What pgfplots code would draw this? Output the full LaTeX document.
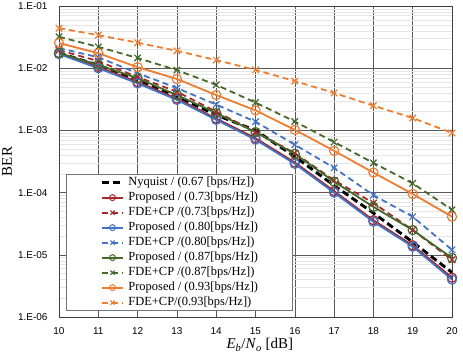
\documentclass[border=0pt]{standalone}
\usepackage{pgfplots}
\pgfplotsset{compat=1.18}
\usepackage{fontspec}
\setmainfont{Liberation Serif}
\newfontfamily\tickfont{Liberation Sans}
\definecolor{cred}{HTML}{A5282B}
\definecolor{cblue}{HTML}{4472C4}
\definecolor{cgreen}{HTML}{44692A}
\definecolor{corange}{HTML}{ED7D31}
\begin{document}
\begin{tikzpicture}
\begin{semilogyaxis}[
  scale only axis, width=393bp, height=311bp,
  xmin=10, xmax=20, ymin=1e-6, ymax=1e-1,
  xtick={10,11,...,20},
  ytick={1e-6,1e-5,1e-4,1e-3,1e-2,1e-1},
  yticklabels={1.E-06,1.E-05,1.E-04,1.E-03,1.E-02,1.E-01},
  /pgf/number format/assume math mode=true,
  ticklabel style={font=\tickfont\fontsize{10}{11}\selectfont},
  yticklabel style={xshift=-8bp},
  xticklabel style={yshift=-7bp},
  tick style={draw=none},
  grid=both,
  major grid style={draw=black!65, line width=0.6pt},
  minor grid style={draw=black!10, line width=0.4pt},
  axis line style={draw=black!75, line width=0.8pt},
  xlabel={\textit{E}\textsubscript{\textit{b}}/\textit{N}\textsubscript{\textit{o}} [dB]},
  ylabel={BER},
  label style={font=\fontsize{15}{16}\selectfont},
  xlabel style={at={(axis description cs:0.511,-0.09)}, anchor=center},
  ylabel style={at={(axis description cs:-0.132,0.5)}, anchor=center},
  legend style={at={(0.018,0.46)}, anchor=north west, draw=black!55, line width=0.9pt,
    font=\fontsize{12.5}{13}\selectfont, cells={anchor=west},
    nodes={inner sep=0pt, text height=9.5bp, text depth=3bp}, row sep=2.5bp,
    column sep=4bp, inner xsep=34bp, inner ysep=2bp},
  legend image code/.code={\draw[#1] (0pt,0pt) -- (21bp,0pt);
    \draw[#1, only marks, mark size=3pt, mark options={line width=1pt}] plot coordinates {(10.5bp,0pt)};},
  every axis plot/.append style={line width=1.8pt, mark size=4.6pt, mark options={solid, line width=1.2pt}},
]
\coordinate (bl) at (rel axis cs:0,0);
\coordinate (tr) at (rel axis cs:1,1);
\addplot[black, dashed, line width=2.9pt, dash pattern=on 7pt off 4pt] coordinates {
 (10,1.75e-2) (11,1.12e-2) (12,6.5e-3) (13,3.5e-3) (14,1.77e-3) (15,1.0e-3)
 (16,3.8e-4) (17,1.3e-4) (18,4.7e-5) (19,1.6e-5) (20,5.2e-6)};
\addplot[cred, mark=o] coordinates {
 (10,1.75e-2) (11,1.05e-2) (12,6.0e-3) (13,3.25e-3) (14,1.55e-3) (15,7.5e-4)
 (16,3.05e-4) (17,1.06e-4) (18,3.6e-5) (19,1.42e-5) (20,4.3e-6)};
\addplot[cred, dashed, mark=x, dash pattern=on 6pt off 4pt] coordinates {
 (10,1.95e-2) (11,1.3e-2) (12,7.2e-3) (13,4.2e-3) (14,2.0e-3) (15,9.5e-4)
 (16,4.3e-4) (17,1.58e-4) (18,6.8e-5) (19,2.5e-5) (20,8.3e-6)};
\addplot[cblue, mark=o] coordinates {
 (10,1.69e-2) (11,1.0e-2) (12,5.7e-3) (13,3.1e-3) (14,1.48e-3) (15,7.1e-4)
 (16,2.9e-4) (17,1.0e-4) (18,3.4e-5) (19,1.35e-5) (20,4.0e-6)};
\addplot[cblue, dashed, mark=x, dash pattern=on 6pt off 4pt] coordinates {
 (10,2.1e-2) (11,1.5e-2) (12,8.3e-3) (13,4.8e-3) (14,2.6e-3) (15,1.38e-3)
 (16,5.9e-4) (17,2.5e-4) (18,9.1e-5) (19,4.1e-5) (20,1.2e-5)};
\addplot[cgreen, mark=o] coordinates {
 (10,1.75e-2) (11,1.13e-2) (12,6.9e-3) (13,3.7e-3) (14,1.9e-3) (15,9.4e-4)
 (16,4.2e-4) (17,1.5e-4) (18,5.9e-5) (19,2.5e-5) (20,8.9e-6)};
\addplot[cgreen, dashed, mark=x, dash pattern=on 6pt off 4pt] coordinates {
 (10,3.2e-2) (11,2.2e-2) (12,1.46e-2) (13,9.3e-3) (14,5.4e-3) (15,2.8e-3)
 (16,1.39e-3) (17,6.5e-4) (18,3.0e-4) (19,1.41e-4) (20,5.3e-5)};
\addplot[corange, mark=o] coordinates {
 (10,2.54e-2) (11,1.74e-2) (12,1.04e-2) (13,6.7e-3) (14,3.7e-3) (15,2.1e-3)
 (16,1.02e-3) (17,4.7e-4) (18,2.1e-4) (19,9.5e-5) (20,4.1e-5)};
\addplot[corange, dashed, mark=x, dash pattern=on 6pt off 4pt] coordinates {
 (10,4.4e-2) (11,3.4e-2) (12,2.57e-2) (13,1.9e-2) (14,1.35e-2) (15,9.4e-3)
 (16,6.2e-3) (17,4.0e-3) (18,2.5e-3) (19,1.58e-3) (20,9.1e-4)};
\legend{Nyquist / (0.67 [bps/Hz]),
  Proposed / (0.73[bps/Hz]),
  FDE+CP /(0.73[bps/Hz]),
  Proposed / (0.80[bps/Hz]),
  FDE+CP /(0.80[bps/Hz]),
  Proposed / (0.87[bps/Hz]),
  FDE+CP /(0.87[bps/Hz]),
  Proposed / (0.93[bps/Hz]),
  FDE+CP/(0.93[bps/Hz])}
\end{semilogyaxis}
\pgfresetboundingbox
\path ([shift={(-59bp,-41bp)}]bl) rectangle ([shift={(11bp,6bp)}]tr);
\end{tikzpicture}
\end{document}
